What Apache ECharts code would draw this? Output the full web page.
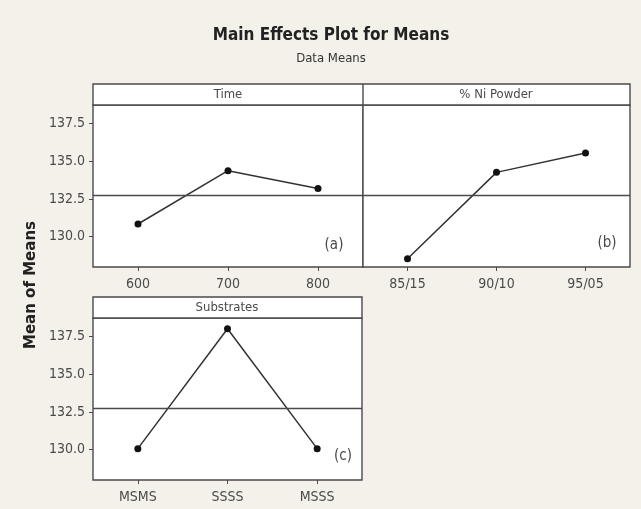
<!DOCTYPE html>
<html>
<head>
<meta charset="utf-8">
<script src="https://cdn.jsdelivr.net/npm/echarts@6/dist/echarts.min.js"></script>
<style>
html,body{margin:0;padding:0;background:#f4f1ea;}
#main{width:641px;height:509px;}
</style>
</head>
<body>
<div id="main"></div>
<script>
// ---- data ----
var timeCats = ['600', '700', '800'];
var timeVals = [130.84, 134.36, 133.18];
var niCats = ['85/15', '90/10', '95/05'];
var niVals = [128.55, 134.25, 135.53];
var subCats = ['MSMS', 'SSSS', 'MSSS'];
var subVals = [130.07, 137.99, 130.07];
var grandMean = 132.76;
var yTicks = [130, 132.5, 135, 137.5];
var panelNames = ['Time', '% Ni Powder', 'Substrates'];
var panelTags = ['(a)', '(b)', '(c)'];
var mainTitle = 'Main Effects Plot for Means';
var subTitle = 'Data Means';
var yName = 'Mean of Means';

var FONT = '"DejaVu Sans Condensed", "Liberation Sans", sans-serif';
var BORDER = '#4a4a4a';
var TXT = '#4a4a4a';

var grids = [
  {left: 93, top: 105, width: 270, height: 162},
  {left: 363, top: 105, width: 267, height: 162},
  {left: 93, top: 318, width: 269, height: 162}
];

function xAxis(i, cats) {
  return {
    type: 'category', gridIndex: i, data: cats, boundaryGap: true,
    axisLine: {show: false},
    axisTick: {show: true, alignWithLabel: true, length: 4, lineStyle: {color: BORDER}},
    axisLabel: {color: TXT, fontSize: 14, fontFamily: FONT, margin: 10},
    splitLine: {show: false}
  };
}
function yAxis(i, showLabels) {
  return {
    type: 'value', gridIndex: i, min: 128, max: 138.7,
    axisLine: {show: false},
    axisTick: {show: showLabels, length: 4, customValues: yTicks, lineStyle: {color: BORDER}},
    axisLabel: {show: showLabels, customValues: yTicks, color: TXT, fontSize: 14, fontFamily: FONT, margin: 8,
      formatter: function (v) { return Number(v).toFixed(1); }},
    splitLine: {show: false}
  };
}
function series(i, vals) {
  return {
    type: 'line', xAxisIndex: i, yAxisIndex: i, data: vals,
    symbol: 'circle', symbolSize: 7, silent: true, animation: false,
    lineStyle: {color: '#333', width: 1.5},
    itemStyle: {color: '#111'},
    markLine: {
      silent: true, symbol: ['none', 'none'], label: {show: false},
      lineStyle: {color: '#4a4a4a', width: 1.4, type: 'solid'},
      data: [{yAxis: grandMean}]
    }
  };
}

var graphics = [
  {type: 'text', x: 331, y: 36, style: {text: mainTitle, font: 'bold 17px ' + FONT, fill: '#222', textAlign: 'center', textVerticalAlign: 'middle'}},
  {type: 'text', x: 331, y: 59, style: {text: subTitle, font: '13px ' + FONT, fill: '#333', textAlign: 'center', textVerticalAlign: 'middle'}},
  {type: 'text', x: 31, y: 285, rotation: Math.PI / 2, style: {text: yName, font: 'bold 15px "DejaVu Sans", sans-serif', fill: '#222', textAlign: 'center', textVerticalAlign: 'middle'}},
  // header strips
  {type: 'rect', shape: {x: 93, y: 84, width: 537, height: 21}, style: {fill: '#fff', stroke: BORDER, lineWidth: 1.4}},
  {type: 'line', shape: {x1: 363, y1: 84, x2: 363, y2: 105}, style: {stroke: BORDER, lineWidth: 1.4}},
  {type: 'rect', shape: {x: 93, y: 297, width: 269, height: 21}, style: {fill: '#fff', stroke: BORDER, lineWidth: 1.4}},
  {type: 'text', x: 228, y: 95, style: {text: panelNames[0], font: '13px ' + FONT, fill: TXT, textAlign: 'center', textVerticalAlign: 'middle'}},
  {type: 'text', x: 496, y: 95, style: {text: panelNames[1], font: '13px ' + FONT, fill: TXT, textAlign: 'center', textVerticalAlign: 'middle'}},
  {type: 'text', x: 227, y: 308, style: {text: panelNames[2], font: '13px ' + FONT, fill: TXT, textAlign: 'center', textVerticalAlign: 'middle'}},
  {type: 'text', x: 334, y: 245, style: {text: panelTags[0], font: '15px ' + FONT, fill: TXT, textAlign: 'center', textVerticalAlign: 'middle'}},
  {type: 'text', x: 607, y: 243, style: {text: panelTags[1], font: '15px ' + FONT, fill: TXT, textAlign: 'center', textVerticalAlign: 'middle'}},
  {type: 'text', x: 343, y: 456, style: {text: panelTags[2], font: '15px ' + FONT, fill: TXT, textAlign: 'center', textVerticalAlign: 'middle'}}
];

var chart = echarts.init(document.getElementById('main'), null, {renderer: 'canvas'});
chart.setOption({
  backgroundColor: '#f4f1ea',
  animation: false,
  grid: grids.map(function (g) {
    return Object.assign({show: true, backgroundColor: '#fff', borderColor: BORDER, borderWidth: 1.4, containLabel: false}, g);
  }),
  xAxis: [xAxis(0, timeCats), xAxis(1, niCats), xAxis(2, subCats)],
  yAxis: [yAxis(0, true), yAxis(1, false), yAxis(2, true)],
  series: [series(0, timeVals), series(1, niVals), series(2, subVals)],
  graphic: graphics
});
</script>
</body>
</html>
